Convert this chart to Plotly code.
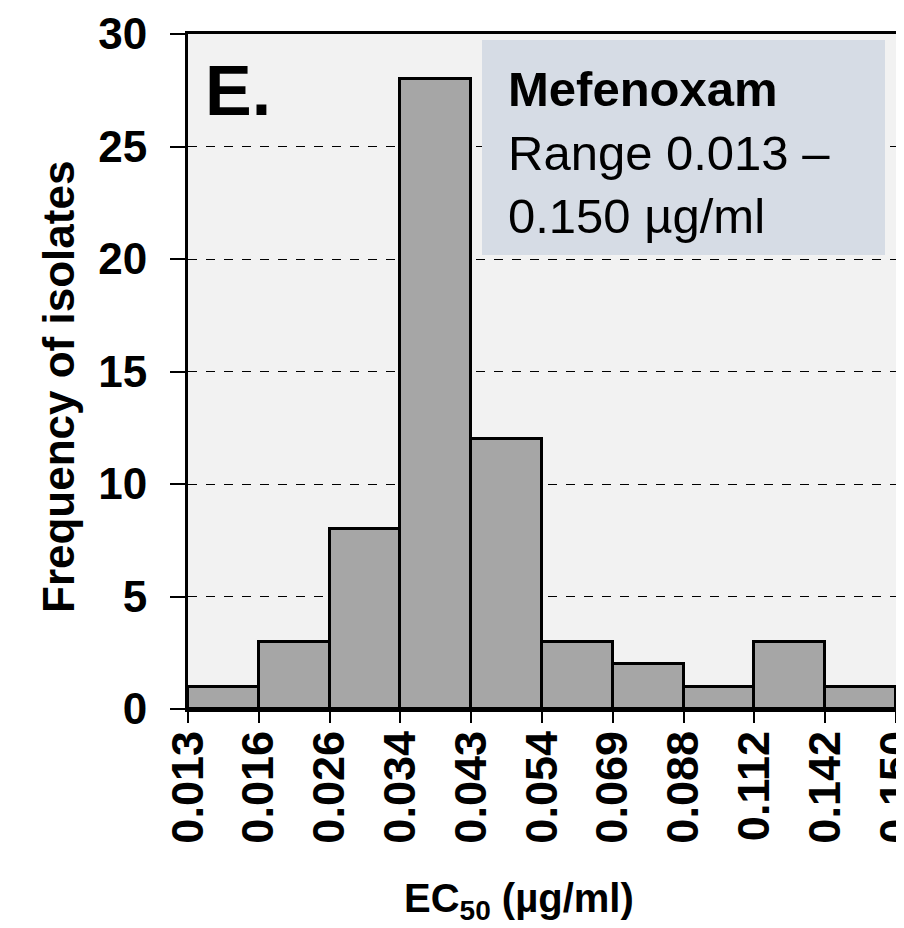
import plotly.graph_objects as go

bin_labels = ["0.013", "0.016", "0.026", "0.034", "0.043", "0.054",
              "0.069", "0.088", "0.112", "0.142", "0.150"]
frequencies = [1, 3, 8, 28, 12, 3, 2, 1, 3, 1]

edges = list(range(len(bin_labels)))
centers = [i + 0.5 for i in range(len(frequencies))]

FONT = "Liberation Sans, Arial, sans-serif"

fig = go.Figure()
fig.add_trace(go.Bar(
    x=centers, y=frequencies, width=[1] * len(frequencies),
    marker=dict(color="#a6a6a6", line=dict(color="black", width=3)),
    showlegend=False,
))

# target plot-area edges on screen (page has an 8px body offset)
L, R, T, B = 188, 896, 34, 709
OFF = 8
W, H = 904, 928
fig.update_layout(
    width=W, height=H,
    margin=dict(l=L - OFF, r=W + OFF - R, t=T - OFF, b=H + OFF - B),
    paper_bgcolor="white",
    plot_bgcolor="#f2f2f2",
    bargap=0,
    font=dict(family=FONT, color="black"),
)

fig.update_xaxes(
    range=[0, 10], automargin=False,
    tickmode="array", tickvals=edges, ticktext=bin_labels,
    tickangle=-90, ticklabeloverflow="allow",
    tickfont=dict(family=FONT, size=45, color="black", weight="bold"),
    ticks="outside", ticklen=11, tickwidth=1.5, tickcolor="black",
    ticklabelstandoff=-10,
    showline=True, linewidth=3, linecolor="black", mirror=True,
    showgrid=False, zeroline=False,
)
fig.update_yaxes(
    range=[0, 30], automargin=False,
    tickmode="array", tickvals=[0, 5, 10, 15, 20, 25, 30],
    tickfont=dict(family=FONT, size=44, color="black", weight="bold"),
    ticks="outside", ticklen=15, tickwidth=1.5, tickcolor="black",
    ticklabelstandoff=14,
    showline=True, linewidth=3, linecolor="black", mirror=True,
    showgrid=True, gridcolor="black", gridwidth=1, griddash="dash",
    zeroline=False,
)

def px_x(x):
    return (x - L) / (R - L)

def px_y(y):
    return (B - y) / (B - T)

# axis titles
fig.add_annotation(xref="paper", yref="paper", x=px_x(519), y=px_y(901),
                   xanchor="center", yanchor="middle", showarrow=False,
                   text="<b>EC<sub>50</sub> (µg/ml)</b>",
                   font=dict(family=FONT, size=40, color="black"))
fig.add_annotation(xref="paper", yref="paper", x=px_x(58), y=px_y(387),
                   xanchor="center", yanchor="middle", showarrow=False,
                   textangle=-90,
                   text="<b>Frequency of isolates</b>",
                   font=dict(family=FONT, size=44, color="black"))

fig.add_shape(type="rect", xref="paper", yref="paper",
              x0=px_x(482), x1=px_x(885), y0=px_y(255), y1=px_y(40),
              fillcolor="#d6dce5", line=dict(width=0), layer="above")

fig.add_annotation(xref="paper", yref="paper",
                   x=px_x(506), y=px_y(60),
                   xanchor="left", yanchor="top", align="left", showarrow=False,
                   text="<b>Mefenoxam</b><br>Range 0.013 –<br>0.150 µg/ml",
                   font=dict(family=FONT, size=49, color="black"))

fig.add_annotation(xref="paper", yref="paper",
                   x=px_x(203), y=px_y(50),
                   xanchor="left", yanchor="top", showarrow=False,
                   text="<b>E.</b>",
                   font=dict(family=FONT, size=70, color="black"))

fig.write_html("out.html")
